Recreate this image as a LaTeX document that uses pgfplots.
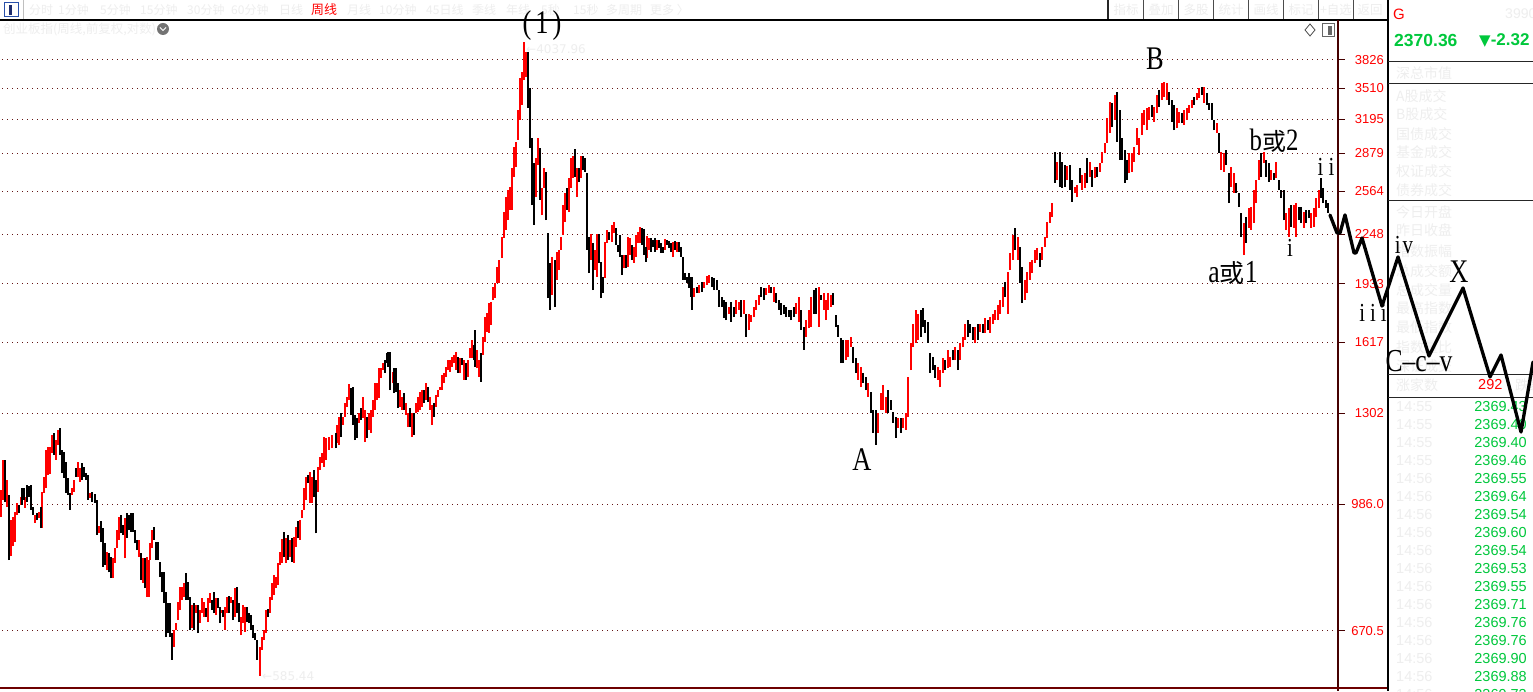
\documentclass[border=0pt]{standalone}
\usepackage{fontspec}
\setmainfont{Liberation Sans}
\newfontfamily\cjk{Noto Sans CJK SC}
\newfontfamily\ann{Liberation Serif}[FakeStretch=0.8]
\newfontfamily\dejavu{DejaVu Sans}
\usepackage{pgfplots}
\usepackage{pgfplotstable}
\pgfplotsset{compat=1.18}
\definecolor{kred}{RGB}{255,0,0}
\definecolor{kgreen}{RGB}{0,200,60}
\definecolor{faint}{RGB}{238,238,238}
\definecolor{gridc}{RGB}{100,20,20}
\definecolor{axc}{RGB}{70,0,0}
\definecolor{botc}{RGB}{110,0,0}
\definecolor{iconblue}{RGB}{40,80,170}
\definecolor{icondark}{RGB}{30,45,110}
\newcommand\fs[1]{\fontsize{#1}{#1}\selectfont}

\pgfplotstableread{
x lo hi c
1 949 1031 1
3 1000 1130 1
5 994 1130 0
7 979 1063 1
9 832 1015 0
11 842 940 1
13 868 949 1
15 879 964 1
17 955 991 1
19 961 985 0
21 985 1009 1
22 985 1037 0
24 1000 1037 0
25 976 1009 1
27 994 1047 0
29 1009 1044 0
31 970 1047 0
33 955 979 0
35 932 955 1
37 940 961 0
39 946 964 1
41 918 979 0
42 918 1025 1
44 1022 1073 1
46 1037 1164 1
48 1079 1175 1
50 1083 1175 1
52 1154 1219 1
54 1147 1227 0
56 1130 1200 1
58 1182 1238 1
60 1147 1246 0
62 1086 1164 0
64 1070 1157 0
66 1022 1123 0
68 1015 1070 0
70 970 1022 0
72 1015 1037 1
74 1025 1063 1
76 1073 1103 0
78 1073 1123 1
80 1057 1103 1
82 1063 1120 0
84 1073 1106 0
86 1063 1086 0
88 1000 1079 0
90 1006 1022 1
92 994 1025 0
95 991 1018 0
97 898 1000 0
99 903 923 1
101 879 937 0
103 815 918 0
105 820 876 0
107 807 853 1
109 802 850 0
111 788 840 0
113 788 837 1
115 825 863 1
117 863 912 1
119 885 949 1
121 903 955 0
123 898 926 0
125 837 946 1
127 890 961 0
129 912 955 0
131 907 961 0
133 907 961 0
135 876 912 0
137 858 885 0
139 840 885 1
141 783 850 0
143 776 837 1
145 764 837 0
147 744 840 1
149 744 832 1
150 832 876 1
152 863 912 1
154 885 921 0
156 832 879 0
158 832 879 0
160 790 827 0
162 755 802 0
164 730 802 0
166 658 755 0
168 666 730 0
170 658 730 0
172 614 666 0
174 639 673 1
176 673 687 1
178 693 733 1
180 715 767 1
182 737 767 1
184 744 776 1
186 737 800 0
188 737 778 0
190 673 744 0
192 677 726 1
194 673 730 0
196 708 726 1
198 666 726 0
200 687 715 1
202 708 742 1
204 700 733 1
206 700 719 0
208 689 742 1
210 730 753 1
212 715 737 0
214 708 755 0
216 704 742 1
218 719 742 0
220 687 722 0
221 708 715 1
223 700 715 0
225 673 722 1
227 708 744 1
229 708 746 0
231 730 744 1
233 693 737 0
235 700 764 1
237 708 767 0
239 689 730 0
241 662 700 1
243 687 726 1
245 669 722 1
247 689 722 0
249 687 708 0
251 673 704 0
253 656 683 0
255 652 666 0
257 614 652 0
260 585 639 1
262 633 658 1
264 652 673 1
266 666 715 1
268 700 717 0
270 708 744 1
272 737 776 1
274 748 795 1
276 764 790 1
278 771 825 1
280 820 853 1
282 825 887 1
284 840 907 0
286 825 890 1
288 832 898 0
290 840 885 1
292 827 890 0
294 825 893 1
296 866 921 1
298 890 937 0
300 885 940 1
302 946 970 1
304 970 1037 1
306 1000 1073 1
308 1054 1079 0
310 991 1089 1
312 991 1073 1
314 1009 1096 0
316 903 1063 0
318 1025 1106 1
320 1096 1140 1
322 1120 1154 1
324 1106 1211 1
326 1130 1208 1
329 1164 1211 1
332 1171 1219 1
336 1171 1227 0
337 1189 1257 1
339 1182 1288 1
341 1211 1304 0
343 1257 1288 1
345 1288 1344 1
347 1328 1369 1
349 1356 1424 1
351 1296 1407 0
353 1257 1411 0
355 1200 1296 0
357 1208 1284 0
359 1265 1304 1
361 1276 1324 0
363 1284 1369 1
365 1193 1316 1
367 1208 1288 0
369 1238 1304 1
371 1227 1316 1
373 1288 1356 1
375 1316 1429 1
377 1356 1429 1
379 1364 1495 1
381 1451 1495 1
383 1486 1518 1
385 1473 1532 0
387 1518 1565 0
388 1500 1570 0
390 1398 1570 0
393 1429 1477 1
394 1385 1495 0
396 1389 1495 0
398 1324 1429 0
400 1328 1398 1
402 1316 1369 1
404 1316 1385 0
406 1296 1344 1
408 1250 1304 1
410 1250 1324 0
412 1211 1304 1
414 1219 1304 0
416 1304 1344 1
418 1308 1369 1
420 1316 1390 1
422 1328 1398 1
424 1344 1398 0
426 1356 1429 1
428 1348 1411 0
430 1316 1369 1
432 1257 1336 1
434 1288 1344 0
436 1328 1377 1
438 1369 1398 1
440 1398 1411 1
442 1398 1464 1
444 1429 1473 1
446 1455 1500 1
448 1486 1532 1
450 1477 1532 1
452 1500 1546 1
454 1518 1556 1
456 1486 1570 1
458 1473 1546 0
460 1473 1541 1
462 1509 1541 0
464 1442 1532 1
466 1442 1518 0
468 1455 1532 1
470 1541 1590 1
472 1541 1629 1
474 1532 1604 0
475 1500 1679 0
477 1495 1580 1
479 1455 1532 1
481 1433 1565 0
483 1556 1644 1
485 1619 1747 1
487 1669 1769 1
489 1664 1823 1
491 1705 1829 1
493 1840 1915 1
495 1851 1938 1
497 1938 2035 1
499 1938 2079 1
502 2092 2230 1
504 2223 2406 1
506 2278 2518 1
508 2348 2574 1
510 2421 2597 1
512 2421 2752 1
514 2678 2934 1
516 2760 2980 1
518 2998 3285 1
520 3186 3620 1
522 3335 3688 1
524 3599 4038 1
526 3632 3922 1
528 3305 3922 0
530 2925 3512 0
532 2458 3016 0
534 2313 2794 0
536 2518 2837 1
538 2777 3016 1
540 2496 2925 0
542 2384 2590 1
544 2590 2752 1
546 2348 2719 0
548 1851 2257 0
550 1785 2060 0
552 1868 2098 1
555 1801 2079 0
557 1956 2130 1
559 2016 2143 1
561 2143 2230 1
563 2243 2458 1
565 2334 2550 1
567 2421 2590 0
569 2406 2669 1
571 2590 2837 1
573 2669 2855 1
575 2678 2916 0
577 2518 2752 1
579 2637 2752 0
581 2669 2855 1
583 2735 2855 0
585 2719 2837 0
587 2143 2710 0
589 1998 2230 0
591 2079 2250 1
593 1897 2190 0
595 2016 2143 1
597 1974 2250 1
599 2060 2250 0
601 1851 2066 0
603 1880 1974 0
605 1968 2196 1
607 2190 2278 1
609 2210 2264 0
612 2196 2313 1
614 2257 2334 1
616 2176 2292 0
618 2130 2176 0
620 2098 2243 0
622 1986 2111 0
624 2028 2111 1
626 2028 2111 0
628 2035 2230 1
630 2111 2223 1
632 2079 2176 0
634 2060 2163 1
636 2098 2243 1
638 2190 2264 1
640 2190 2299 1
642 2176 2292 0
644 2111 2285 0
646 2066 2163 0
647 2092 2237 1
649 2143 2223 1
651 2130 2223 0
653 2163 2210 0
655 2130 2223 0
657 2143 2210 1
659 2156 2210 0
661 2124 2190 0
663 2124 2163 0
665 2143 2217 1
667 2176 2210 0
669 2156 2203 0
671 2130 2190 0
673 2098 2196 1
675 2143 2203 0
677 2130 2196 1
679 2130 2196 0
681 2098 2163 0
683 1956 2098 0
685 1956 1998 0
687 1938 1974 0
689 1909 1998 0
691 1857 1974 0
692 1785 1974 0
694 1857 1909 1
697 1880 1915 0
699 1880 1926 1
702 1886 1944 0
704 1909 1944 1
707 1926 1980 1
709 1938 1986 1
712 1915 1974 0
714 1897 1968 0
717 1897 1956 0
719 1801 1897 0
722 1801 1857 0
724 1742 1840 0
726 1731 1829 0
729 1763 1801 1
731 1721 1829 0
734 1747 1801 0
736 1763 1840 1
739 1785 1829 1
741 1747 1840 0
744 1763 1840 1
746 1644 1763 0
749 1679 1763 1
751 1721 1758 1
754 1747 1801 1
756 1785 1840 1
759 1812 1868 1
761 1857 1915 0
764 1840 1909 0
766 1868 1909 1
769 1880 1926 1
771 1880 1915 0
774 1829 1915 1
776 1823 1880 0
779 1785 1840 0
781 1758 1823 0
784 1763 1812 0
786 1747 1801 0
789 1747 1785 0
791 1731 1785 0
794 1747 1801 0
796 1763 1823 1
799 1721 1857 1
801 1679 1785 0
804 1580 1695 0
806 1644 1731 1
809 1689 1785 1
811 1695 1857 1
814 1763 1897 0
816 1763 1909 0
819 1695 1915 1
821 1840 1868 0
824 1785 1880 1
826 1731 1840 1
828 1785 1880 1
831 1801 1868 1
833 1812 1880 0
836 1695 1758 0
838 1644 1705 0
841 1518 1639 0
843 1518 1629 0
846 1532 1629 1
848 1546 1629 1
851 1594 1644 1
853 1518 1594 0
856 1473 1541 0
858 1442 1518 1
861 1411 1500 1
863 1429 1473 0
866 1398 1455 0
868 1369 1429 1
871 1304 1390 0
873 1227 1316 0
876 1184 1316 0
878 1227 1304 1
881 1316 1385 1
883 1316 1420 1
886 1304 1369 1
888 1304 1398 0
891 1316 1356 0
893 1265 1308 0
896 1208 1288 0
898 1246 1284 1
901 1227 1284 0
903 1246 1284 1
906 1238 1304 1
908 1288 1455 1
911 1486 1614 1
913 1594 1711 1
916 1614 1785 1
918 1629 1763 1
921 1644 1785 0
923 1695 1796 0
925 1664 1731 0
928 1614 1721 0
930 1473 1565 0
933 1486 1546 0
935 1451 1509 0
938 1442 1500 1
940 1411 1486 1
943 1473 1541 1
945 1486 1532 0
948 1495 1580 1
950 1500 1546 1
953 1532 1580 0
955 1532 1594 1
958 1486 1580 0
960 1532 1614 1
963 1594 1644 1
965 1629 1711 1
968 1644 1731 0
970 1664 1711 0
973 1629 1695 0
975 1614 1695 1
978 1629 1711 0
980 1669 1711 1
983 1664 1711 0
985 1664 1742 1
988 1679 1731 0
990 1664 1747 1
993 1711 1763 1
995 1731 1785 1
998 1731 1812 1
1000 1763 1840 1
1003 1801 1915 1
1005 1857 1944 0
1008 1763 2004 1
1010 2016 2124 1
1013 2079 2243 1
1015 2143 2292 0
1018 2079 2230 1
1020 1938 2163 0
1022 1823 2035 0
1025 1840 1956 1
1027 1880 2004 1
1030 1956 2066 1
1032 1998 2079 1
1035 2060 2143 1
1037 2079 2156 1
1040 2035 2124 0
1042 2079 2163 1
1045 2163 2230 1
1047 2223 2334 1
1050 2327 2406 1
1052 2370 2473 1
1055 2629 2889 0
1057 2653 2803 1
1060 2597 2889 0
1062 2590 2803 0
1065 2597 2777 0
1067 2653 2769 1
1070 2574 2777 0
1072 2481 2653 0
1075 2550 2597 1
1077 2518 2613 1
1080 2629 2752 0
1082 2574 2694 1
1085 2590 2710 1
1087 2629 2837 0
1090 2678 2803 1
1092 2597 2735 0
1095 2669 2760 1
1097 2678 2760 0
1100 2719 2794 1
1102 2794 2889 1
1105 2880 2970 1
1107 2970 3205 1
1110 3062 3365 1
1112 3118 3355 0
1115 3186 3438 1
1117 2980 3470 0
1120 2820 3285 0
1122 2820 3016 0
1125 2629 2907 0
1127 2653 2820 0
1129 2710 2880 1
1132 2719 2880 1
1134 2803 2934 1
1137 2952 3109 1
1139 2863 3016 1
1142 3044 3255 1
1144 3138 3285 1
1147 3090 3305 1
1149 3186 3315 1
1152 3215 3335 0
1154 3167 3315 1
1157 3255 3438 1
1159 3315 3491 0
1162 3386 3567 1
1164 3418 3578 1
1167 3386 3567 1
1169 3335 3470 0
1172 3167 3386 0
1174 3090 3335 0
1177 3109 3305 1
1179 3157 3265 1
1182 3157 3255 0
1184 3138 3285 1
1187 3186 3305 1
1189 3255 3335 1
1192 3305 3386 1
1194 3335 3418 0
1197 3386 3459 1
1199 3407 3512 1
1202 3438 3523 0
1204 3355 3523 1
1207 3335 3459 0
1209 3285 3355 0
1212 3186 3355 0
1214 3090 3186 0
1217 3062 3157 1
1219 2880 3062 0
1221 2735 2889 1
1224 2719 2880 1
1226 2777 2907 0
1229 2473 2710 0
1231 2597 2760 1
1234 2550 2710 1
1236 2550 2629 0
1239 2443 2550 0
1241 2230 2399 0
1244 2110 2327 1
1246 2190 2370 0
1249 2292 2436 1
1251 2278 2443 1
1254 2327 2574 1
1256 2473 2653 1
1259 2653 2820 1
1261 2678 2880 0
1264 2794 2889 1
1266 2678 2820 0
1269 2637 2794 0
1271 2653 2735 1
1274 2653 2710 0
1276 2669 2803 1
1279 2574 2653 0
1281 2511 2574 0
1284 2348 2574 0
1286 2278 2399 1
1289 2230 2436 1
1291 2299 2458 0
1294 2292 2458 1
1296 2230 2473 1
1299 2348 2443 0
1301 2327 2443 0
1304 2292 2406 1
1306 2327 2421 0
1309 2362 2421 0
1311 2292 2399 1
1314 2299 2436 1
1316 2370 2511 1
1319 2436 2574 1
1321 2511 2669 0
1323 2473 2590 0
1326 2436 2496 0
1328 2399 2473 0
}\bars

\begin{document}
\begin{tikzpicture}
% ---------- background user interface, pixel coordinates ----------
\begin{scope}[x=1pt,y=-1pt,yshift=691pt]
\fill[white] (0,0) rectangle (1533,691);
% top toolbar
\draw[iconblue, line width=1pt] (4,3) rectangle (18,17);
\fill[icondark] (9,5) rectangle (12,15);
\draw[black!25, line width=0.8pt] (23,0) -- (23,20);
\tikzset{tb/.style={anchor=west, inner sep=0pt, text=faint, font=\cjk\fs{12}}}
\node[tb] at (29,10) {分时};
\node[tb] at (58,10) {1分钟};
\node[tb] at (100,10) {5分钟};
\node[tb] at (140,10) {15分钟};
\node[tb] at (187,10) {30分钟};
\node[tb] at (231,10) {60分钟};
\node[tb] at (279,10) {日线};
\node[tb, text=kred, font=\cjk\fs{13}] at (311,10) {周线};
\node[tb] at (347,10) {月线};
\node[tb] at (379,10) {10分钟};
\node[tb] at (426,10) {45日线};
\node[tb] at (472,10) {季线};
\node[tb] at (506,10) {年线};
\node[tb] at (541,10) {5秒};
\node[tb] at (573,10) {15秒};
\node[tb] at (606,10) {多周期};
\node[tb] at (650,10) {更多 〉};
\draw[black!85, line width=2pt] (1108,0) -- (1108,20);
\foreach \xx in {1143,1178,1213,1248,1283,1318,1353} \draw[black!70, line width=0.8pt] (\xx,0) -- (\xx,20);
\tikzset{tc/.style={anchor=center, inner sep=0pt, text=faint, font=\cjk\fs{12.5}}}
\node[tc] at (1126,10) {指标};
\node[tc] at (1161,10) {叠加};
\node[tc] at (1196,10) {多股};
\node[tc] at (1231,10) {统计};
\node[tc] at (1266,10) {画线};
\node[tc] at (1301,10) {标记};
\node[tc] at (1336,10) {+自选};
\node[tc] at (1370,10) {返回};
\draw[black, line width=1.5pt] (0,20) -- (1388,20);
% chart subtitle and icons
\node[anchor=west, inner sep=0pt, text=faint, font=\cjk\fs{12.5}] at (3,29) {创业板指(周线,前复权,对数)};
\fill[black!55] (163,29) circle (6);
\draw[white, line width=1pt] (160,27.5) -- (163,30.5) -- (166,27.5);
\draw[black!70, line width=0.8pt] (1310,24) -- (1315,30) -- (1310,36) -- (1305,30) -- cycle;
\draw[black!60, line width=1pt] (1322,24) rectangle (1334,37);
\fill[black!60] (1328,26) rectangle (1332,35);
% frame
\draw[axc, line width=1.5pt] (1338,20) -- (1338,691);
\draw[botc, line width=2pt] (0,688) -- (1388,688);
\draw[black, line width=1.5pt] (1388,0) -- (1388,691);
% right panel
\node[anchor=west, inner sep=0pt, text=kred, font=\fs{15}] at (1393,14) {G};
\node[anchor=west, inner sep=0pt, text=faint, font=\fs{14}] at (1505,14) {3990};
\node[anchor=west, inner sep=0pt, text=kgreen, font=\bfseries\fs{17.5}] at (1394,40) {2370.36};
\node[anchor=west, inner sep=0pt, text=kgreen, font=\bfseries\fs{17}] at (1479,40) {{\dejavu\fs{15}▼}-2.32};
\foreach \yy in {62,84,201,375,398} \draw[black!85, line width=1pt] (1388,\yy) -- (1533,\yy);
\tikzset{pl/.style={anchor=west, inner sep=0pt, text=faint, font=\cjk\fs{14}}}
\foreach \yy/\tt in {73/深总市值,96/A股成交,114/B股成交,134/国债成交,152/基金成交,171/权证成交,190/债券成交,212/今日开盘,230/昨日收盘,251/指数振幅,271/总成交额,290/总成交量,308/最高指数,327/最低指数,347/指数量比,366/深证成交,385/涨家数}
  \node[pl] at (1396,\yy) {\tt};
\node[anchor=west, inner sep=0pt, text=kred, font=\fs{14.5}] at (1478,385) {292};
\node[pl] at (1515,385) {跌家数};
\foreach \yy/\tt/\vv in {407/14:55/2369.43,425/14:55/2369.40,443/14:55/2369.40,461/14:55/2369.46,479/14:56/2369.55,497/14:56/2369.64,515/14:56/2369.54,533/14:56/2369.60,551/14:56/2369.54,569/14:56/2369.53,587/14:56/2369.55,605/14:56/2369.71,623/14:56/2369.76,641/14:56/2369.76,659/14:56/2369.90,677/14:56/2369.88,695/14:56/2369.73}{
  \node[anchor=west, inner sep=0pt, text=faint, font=\fs{14.5}] at (1396,\yy) {\tt};
  \node[anchor=east, inner sep=0pt, text=kgreen, font=\fs{14.5}] at (1527,\yy) {\vv};
}
\end{scope}

% ---------- the chart ----------
\begin{axis}[at={(0pt,0pt)}, anchor=south west, scale only axis,
  width=1533pt, height=691pt, xmin=0, xmax=1533,
  ymode=log, ymin=558.4, ymax=4593.9, hide axis, clip=false]
\pgfplotsinvokeforeach{3826,3510,3195,2879,2564,2248,1933,1617,1302,986,670.5}{
  \draw[gridc, line width=1pt, dash pattern=on 1pt off 4pt] (axis cs:2,#1) -- (axis cs:1336,#1);
  \draw[axc, line width=1pt] (axis cs:1338,#1) -- (axis cs:1345,#1);
}
\node[anchor=east, inner sep=0pt, text=kred, font=\fs{13}] at (axis cs:1384,3826) {3826};
\node[anchor=east, inner sep=0pt, text=kred, font=\fs{13}] at (axis cs:1384,3510) {3510};
\node[anchor=east, inner sep=0pt, text=kred, font=\fs{13}] at (axis cs:1384,3195) {3195};
\node[anchor=east, inner sep=0pt, text=kred, font=\fs{13}] at (axis cs:1384,2879) {2879};
\node[anchor=east, inner sep=0pt, text=kred, font=\fs{13}] at (axis cs:1384,2564) {2564};
\node[anchor=east, inner sep=0pt, text=kred, font=\fs{13}] at (axis cs:1384,2248) {2248};
\node[anchor=east, inner sep=0pt, text=kred, font=\fs{13}] at (axis cs:1384,1933) {1933};
\node[anchor=east, inner sep=0pt, text=kred, font=\fs{13}] at (axis cs:1384,1617) {1617};
\node[anchor=east, inner sep=0pt, text=kred, font=\fs{13}] at (axis cs:1384,1302) {1302};
\node[anchor=east, inner sep=0pt, text=kred, font=\fs{13}] at (axis cs:1384,986) {986.0};
\node[anchor=east, inner sep=0pt, text=kred, font=\fs{13}] at (axis cs:1384,670.5) {670.5};
% weekly bars (low to high)
\addplot[draw=none, restrict expr to domain={\thisrow{c}}{0.5:1.5},
  error bars/.cd, y dir=plus, y explicit, error mark=none,
  error bar style={draw=kred, line width=1.1pt}]
  table[x=x, y=lo, y error plus expr={\thisrow{hi}-\thisrow{lo}}] {\bars};
\addplot[draw=none, restrict expr to domain={\thisrow{c}}{-0.5:0.5},
  error bars/.cd, y dir=plus, y explicit, error mark=none,
  error bar style={draw=black, line width=1.1pt}]
  table[x=x, y=lo, y error plus expr={\thisrow{hi}-\thisrow{lo}}] {\bars};
% extreme labels
\node[anchor=west, inner sep=0pt, text=faint, font=\dejavu\fs{12}] at (axis cs:526,3960) {←4037.96};
\node[anchor=west, inner sep=0pt, text=faint, font=\dejavu\fs{12}] at (axis cs:262,585) {←585.44};
% projected wave path
\addplot[black, line width=3.3pt, line join=round, line cap=round] coordinates {
  (1330,2384) (1337,2257) (1340,2257) (1345,2385) (1354,2124) (1356,2124)
  (1362,2223) (1382,1806) (1398,2098) (1429,1551) (1463,1909) (1490,1455)
  (1501,1556) (1521,1230) (1533,1523)};
\end{axis}

% ---------- wave labels ----------
\begin{scope}[x=1pt,y=-1pt,yshift=691pt]
\tikzset{wl/.style={anchor=center, inner sep=0pt, text=black}}
\node[wl, font=\ann\fs{33}] at (542,26) {(\kern4pt 1\kern4pt )};
\node[wl, font=\ann\fs{33}] at (1155,59) {B};
\node[wl, font=\ann\fs{33}] at (862,460) {A};
\node[wl, font=\ann\fs{33}] at (1459,272) {X};
\node[wl, font=\ann\fs{32}] at (1419,361) {C–c–v};
\node[wl] at (1274,141) {{\ann\fs{31}b}{\cjk\fs{24}或}{\ann\fs{31}2}};
\node[wl] at (1233,273) {{\ann\fs{32}a}{\cjk\fs{25}或}{\ann\fs{32}1}};
\node[wl, font=\ann\fs{26}] at (1326,167) {i\kern5pt i};
\node[wl, font=\ann\fs{26}] at (1290,248) {i};
\node[wl, font=\ann\fs{26}] at (1373,313) {i\kern5pt i\kern5pt i};
\node[wl, font=\ann\fs{26}] at (1404,245) {i\kern2pt v};
\end{scope}
\pgfresetboundingbox
\path[use as bounding box] (0,0) rectangle (1533pt,691pt);
\end{tikzpicture}
\end{document}
